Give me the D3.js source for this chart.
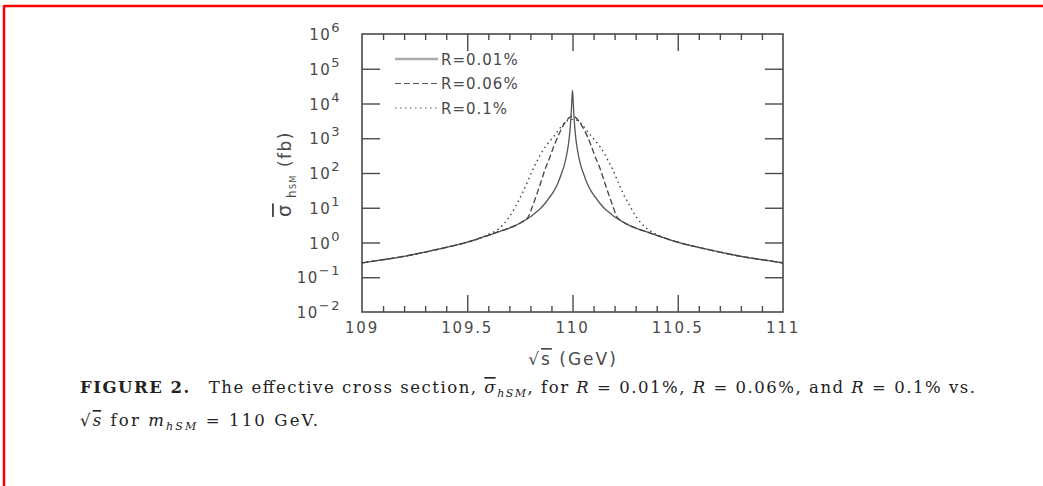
<!DOCTYPE html>
<html>
<head>
<meta charset="utf-8">
<script src="https://cdn.jsdelivr.net/npm/d3@7"></script>
<style>
  body { margin: 0; background: #fff; }
  text { font-family: "DejaVu Sans", sans-serif; }
</style>
</head>
<body>
<svg id="chart" width="1043" height="486"></svg>
<script>
// data (sqrt(s) in GeV, cross section in fb)
const sqrtS = [109, 109.1, 109.2, 109.3, 109.4, 109.5, 109.55, 109.6, 109.65, 109.7, 109.73, 109.76, 109.79, 109.81, 109.83, 109.85, 109.87, 109.89, 109.91, 109.93, 109.95, 109.96, 109.97, 109.98, 109.985, 109.99, 109.993, 109.995, 109.997, 110,
  110.003, 110.005, 110.007, 110.01, 110.015, 110.02, 110.03, 110.04, 110.05, 110.07, 110.09, 110.11, 110.13, 110.15, 110.17, 110.19, 110.21, 110.24, 110.27, 110.3, 110.35, 110.4, 110.45, 110.5, 110.6, 110.7, 110.8, 110.9, 111];

const sigmaR001 = [0.26, 0.32, 0.40, 0.53, 0.72, 1.02, 1.27, 1.6, 2.05, 2.6, 3.1, 3.9, 5.0, 6.1, 7.7, 9.8, 13.5, 19.5, 29, 50, 105, 160, 285, 630, 1100, 2350, 4300, 7200, 13000, 24000,
  13000, 7200, 4300, 2350, 1100, 630, 285, 160, 105, 50, 29, 19.5, 13.5, 9.8, 7.7, 6.1, 5.0, 3.9, 3.1, 2.6, 2.05, 1.6, 1.27, 1.02, 0.72, 0.53, 0.40, 0.32, 0.26];

const sigmaR006 = [0.26, 0.32, 0.40, 0.53, 0.72, 1.02, 1.27, 1.6, 2.05, 2.6, 3.1, 3.9, 5.5, 11, 24, 55, 130, 260, 560, 1100, 2000, 2550, 3100, 3700, 3950, 4150, 4250, 4300, 4330, 4350,
  4330, 4300, 4250, 4150, 3950, 3700, 3100, 2550, 2000, 1150, 580, 270, 140, 60, 26, 12, 5.6, 3.9, 3.1, 2.6, 2.05, 1.6, 1.27, 1.02, 0.72, 0.53, 0.40, 0.32, 0.26];

const sigmaR01 = [0.26, 0.32, 0.40, 0.53, 0.72, 1.02, 1.27, 1.7, 2.5, 5.5, 11, 25, 62, 120, 210, 360, 560, 800, 1100, 1600, 2300, 2700, 3000, 3300, 3400, 3450, 3480, 3490, 3500, 3500,
  3500, 3490, 3480, 3450, 3400, 3300, 3000, 2700, 2300, 1600, 1150, 820, 580, 380, 220, 130, 68, 26, 12, 5.8, 2.6, 1.7, 1.27, 1.02, 0.72, 0.53, 0.40, 0.32, 0.26];

const seriesNames = ["R=0.01%", "R=0.06%", "R=0.1%"];
const yTickExp = [-2, -1, 0, 1, 2, 3, 4, 5, 6];
const xTickLabels = [109, 109.5, 110, 110.5, 111];
const xMajor = [109.5, 110, 110.5];
const xMinor = [109.1, 109.2, 109.3, 109.4, 109.6, 109.7, 109.8, 109.9, 110.1, 110.2, 110.3, 110.4, 110.6, 110.7, 110.8, 110.9];

const svg = d3.select("#chart");
const plotL = 362, plotR = 783, plotT = 34, plotB = 312;
const ink = "#4a4a4a";

// red page frame
svg.append("line").attr("x1", 4).attr("x2", 1043).attr("y1", 6).attr("y2", 6)
  .attr("stroke", "#f00").attr("stroke-width", 2.5);
svg.append("line").attr("x1", 4).attr("x2", 4).attr("y1", 5).attr("y2", 486)
  .attr("stroke", "#f00").attr("stroke-width", 2.5);

const x = d3.scaleLinear().domain([109, 111]).range([plotL, plotR]);
const y = d3.scaleLog().domain([1e-2, 1e6]).range([plotB, plotT]);

// ticks through d3 axes (inward ticks on all four sides)
function styleAxis(g) {
  g.select(".domain").remove();
  g.selectAll("text").remove();
  g.selectAll("line").attr("stroke", ink).attr("stroke-width", 1.4);
}
const yInner = yTickExp.slice(1, -1).map(e => Math.pow(10, e));
svg.append("g").attr("transform", `translate(${plotL},0)`)
  .call(d3.axisLeft(y).tickValues(yInner).tickSize(-18)).call(styleAxis);
svg.append("g").attr("transform", `translate(${plotR},0)`)
  .call(d3.axisRight(y).tickValues(yInner).tickSize(-18)).call(styleAxis);
svg.append("g").attr("transform", `translate(0,${plotB})`)
  .call(d3.axisBottom(x).tickValues(xMinor).tickSize(-6)).call(styleAxis);
svg.append("g").attr("transform", `translate(0,${plotB})`)
  .call(d3.axisBottom(x).tickValues(xMajor).tickSize(-17)).call(styleAxis);
svg.append("g").attr("transform", `translate(0,${plotT})`)
  .call(d3.axisTop(x).tickValues(xMinor).tickSize(-6)).call(styleAxis);
svg.append("g").attr("transform", `translate(0,${plotT})`)
  .call(d3.axisTop(x).tickValues(xMajor).tickSize(-17)).call(styleAxis);

svg.append("rect").attr("x", plotL).attr("y", plotT)
  .attr("width", plotR - plotL).attr("height", plotB - plotT)
  .attr("fill", "none").attr("stroke", ink).attr("stroke-width", 1.6);

// y tick labels 10^n
yTickExp.forEach(e => {
  const t = svg.append("text").attr("x", 341).attr("y", y(Math.pow(10, e)) + 6)
    .attr("text-anchor", "end").attr("fill", ink)
    .style("font-size", "15px").style("letter-spacing", "1.5px");
  t.append("tspan").text("10");
  t.append("tspan").attr("dy", -8).style("font-size", "13px")
    .text(e < 0 ? "\u2212" + (-e) : String(e));
});

// x tick labels
xTickLabels.forEach(v => {
  svg.append("text").attr("x", x(v)).attr("y", 333)
    .attr("text-anchor", "middle").attr("fill", ink)
    .style("font-size", "15px").style("letter-spacing", "1.8px")
    .text(String(v));
});

// axis titles
const xt = svg.append("text").attr("x", 573).attr("y", 365)
  .attr("text-anchor", "middle").attr("fill", ink)
  .style("font-size", "17px").style("letter-spacing", "2px");
xt.append("tspan").text("\u221A");
xt.append("tspan").style("text-decoration", "overline").text("s");
xt.append("tspan").text("  (GeV)");

const yt = svg.append("text").attr("transform", "translate(291,174) rotate(-90)")
  .attr("text-anchor", "middle").attr("fill", ink)
  .style("font-size", "17px").style("letter-spacing", "1.5px");
yt.append("tspan").style("text-decoration", "overline").style("font-size", "19px").text("\u03C3");
yt.append("tspan").attr("dy", 5).style("font-size", "12px").text(" h");
yt.append("tspan").style("font-size", "8px").text("SM");
yt.append("tspan").attr("dy", -5).text("  (fb)");

// curves
const seriesValues = [sigmaR001, sigmaR006, sigmaR01];
const dashes = [null, "6,3", "1.5,3.5"];
const line = d3.line().x(d => x(d[0])).y(d => y(d[1])).curve(d3.curveMonotoneX);
seriesValues.forEach((vals, i) => {
  svg.append("path").datum(sqrtS.map((s, k) => [s, vals[k]]))
    .attr("d", line).attr("fill", "none")
    .attr("stroke", i === 0 ? "#555" : "#444")
    .attr("stroke-width", i === 2 ? 1.4 : 1.3)
    .attr("stroke-dasharray", dashes[i]);
});

// legend
seriesNames.forEach((name, i) => {
  const ly = 59 + i * 24.5;
  svg.append("line").attr("x1", 395).attr("x2", 438).attr("y1", ly).attr("y2", ly)
    .attr("stroke", i === 0 ? "#aaa" : "#555")
    .attr("stroke-width", i === 0 ? 2.4 : 1.2)
    .attr("stroke-dasharray", dashes[i]);
  svg.append("text").attr("x", 441).attr("y", ly + 5.5).attr("fill", ink)
    .style("font-size", "15px").style("letter-spacing", "1px").text(name);
});

// caption
const serif = "'DejaVu Serif', 'Liberation Serif', serif";
const c1 = svg.append("text").attr("x", 80).attr("y", 393)
  .attr("textLength", 895).attr("lengthAdjust", "spacing")
  .attr("fill", "#222").style("font-family", serif).style("font-size", "16.5px");
c1.append("tspan").style("font-weight", "bold").text("FIGURE 2.");
c1.append("tspan").text("\u2003The effective cross section, ");
c1.append("tspan").style("font-style", "italic").style("text-decoration", "overline").text("\u03C3");
c1.append("tspan").attr("dy", 4).style("font-style", "italic").style("font-size", "11px").text("hSM");
c1.append("tspan").attr("dy", -4).text(", for ");
c1.append("tspan").style("font-style", "italic").text("R");
c1.append("tspan").text(" = 0.01%, ");
c1.append("tspan").style("font-style", "italic").text("R");
c1.append("tspan").text(" = 0.06%, and ");
c1.append("tspan").style("font-style", "italic").text("R");
c1.append("tspan").text(" = 0.1% vs.");

const c2 = svg.append("text").attr("x", 80).attr("y", 426)
  .attr("textLength", 238).attr("lengthAdjust", "spacing")
  .attr("fill", "#222").style("font-family", serif).style("font-size", "16.5px");
c2.append("tspan").text("\u221A");
c2.append("tspan").style("font-style", "italic").style("text-decoration", "overline").text("s");
c2.append("tspan").text(" for ");
c2.append("tspan").style("font-style", "italic").text("m");
c2.append("tspan").attr("dy", 4).style("font-style", "italic").style("font-size", "11px").text("hSM");
c2.append("tspan").attr("dy", -4).text(" = 110 GeV.");
</script>
</body>
</html>
